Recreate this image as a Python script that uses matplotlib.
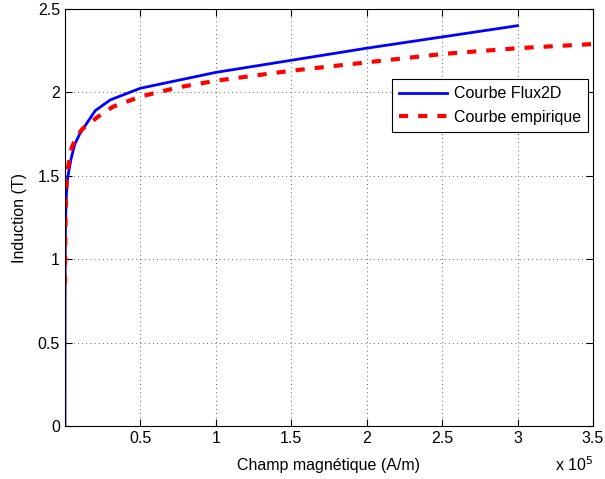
import matplotlib
matplotlib.use("Agg")
import matplotlib.pyplot as plt
import matplotlib.ticker as ticker

plt.rcParams["font.family"] = ["Liberation Sans", "DejaVu Sans"]

# Courbe B(H) issue de Flux2D
h_flux = [0, 20, 50, 100, 200, 400, 700, 1000, 2000, 4000, 6500, 10000,
          20000, 30000, 50000, 100000, 200000, 300000]
b_flux = [0, 0.3, 0.6, 0.9, 1.1, 1.25, 1.33, 1.4, 1.5, 1.6, 1.69, 1.755,
          1.89, 1.955, 2.025, 2.12, 2.265, 2.4]

# Courbe empirique
h_emp = [0, 200, 500, 1000, 2000, 4500, 8000, 12000, 22000, 32000, 50000,
         75000, 100000, 150000, 200000, 250000, 300000, 350000]
b_emp = [0.85, 1.1, 1.3, 1.45, 1.55, 1.67, 1.74, 1.785, 1.855, 1.915, 1.975,
         2.03, 2.07, 2.13, 2.18, 2.23, 2.265, 2.29]

x_ticks = [0.5e5, 1e5, 1.5e5, 2e5, 2.5e5, 3e5, 3.5e5]
y_ticks = [0, 0.5, 1, 1.5, 2, 2.5]

FS = 11.5

fig = plt.figure(figsize=(6.05, 4.79), dpi=100)
ax = fig.add_axes([0.1074, 0.1106, 0.8727, 0.8706])

ax.plot(h_flux, b_flux, color="#0000ff", linewidth=2.0, label="Courbe Flux2D")
ax.plot(h_emp, b_emp, color="#ff0000", linewidth=3.0, dashes=(2.2, 2.4),
        dash_capstyle="butt", label="Courbe empirique")

ax.set_xlim(0, 3.5e5)
ax.set_ylim(0, 2.5)
ax.set_xticks(x_ticks)
ax.set_yticks(y_ticks)
ax.xaxis.set_major_formatter(ticker.FuncFormatter(lambda v, p: f"{v / 1e5:g}"))
ax.yaxis.set_major_formatter(ticker.FuncFormatter(lambda v, p: f"{v:g}"))
ax.tick_params(direction="in", top=True, right=True, length=5, width=0.8,
               labelsize=FS, colors="black")
ax.xaxis.set_minor_locator(ticker.NullLocator())

ax.grid(True, color="black", linestyle=(0, (1, 4)), linewidth=0.6, alpha=0.8)
for s in ax.spines.values():
    s.set_linewidth(0.8)

ax.set_xlabel("Champ magnétique (A/m)", fontsize=FS, labelpad=9)
ax.set_ylabel("Induction (T)", fontsize=FS, labelpad=8)
ax.text(1.0, -0.093, r"x 10$^{5}$", transform=ax.transAxes, ha="right",
        va="center", fontsize=FS)

leg = ax.legend(loc="upper right", bbox_to_anchor=(0.9905, 0.832),
                fontsize=FS, handlelength=3.0, fancybox=False, framealpha=1,
                edgecolor="black", borderaxespad=0, borderpad=0.45,
                labelspacing=0.55, handletextpad=0.4)
leg.get_frame().set_linewidth(0.8)

fig.savefig("out.png", dpi=100)
